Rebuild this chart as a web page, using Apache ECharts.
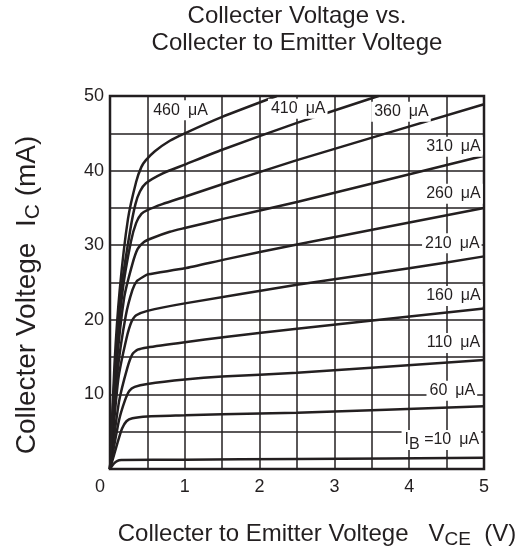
<!DOCTYPE html>
<html><head><meta charset="utf-8">
<script src="https://cdn.jsdelivr.net/npm/echarts@6/dist/echarts.min.js"></script>
<style>html,body{margin:0;padding:0;background:#fff}#c{width:523px;height:556px}</style>
</head><body><div id="c"></div>
<script>
// ---- data ----
const xTickLabels = ['0', '1', '2', '3', '4', '5'];
const yTickLabels = ['10', '20', '30', '40', '50'];
const ibNames = ['10', '60', '110', '160', '210', '260', '310', '360', '410', '460'];

const ib10  = [[0,0],[0.05,0.7],[0.1,1.1],[0.15,1.2],[1,1.25],[2.5,1.35],[5,1.5]];
const ib60  = [[0,0],[0.1,3.5],[0.16,5.4],[0.22,6.4],[0.3,6.8],[0.5,7.05],[1,7.2],[1.5,7.35],[2.5,7.55],[5,8.4]];
const ib110 = [[0,0],[0.12,6.5],[0.2,9.2],[0.26,10.5],[0.33,11.0],[0.5,11.4],[1,12.0],[1.5,12.4],[2.5,12.9],[5,14.6]];
const ib160 = [[0,0],[0.12,9],[0.23,13.5],[0.3,15.4],[0.37,16.0],[0.5,16.3],[1,17.0],[1.54,17.7],[2.5,18.8],[5,21.5]];
const ib210 = [[0,0],[0.11,12],[0.22,17.5],[0.29,19.8],[0.35,20.6],[0.5,21.2],[1,22.2],[2.5,24.7],[4,26.9],[5,28.5]];
const ib260 = [[0,0],[0.1,13],[0.21,20.5],[0.3,24],[0.36,25.2],[0.45,25.8],[0.51,26.1],[1,26.9],[1.54,28.1],[2.5,30.1],[5,35]];
const ib310 = [[0,0],[0.09,14],[0.19,23],[0.3,27.5],[0.37,29.5],[0.45,30.4],[0.55,30.9],[0.8,31.8],[1,32.3],[1.54,33.6],[2.5,35.8],[5,42]];
const ib360 = [[0,0],[0.08,14],[0.17,24],[0.28,30.5],[0.35,33],[0.42,34.2],[0.5,34.7],[0.7,35.5],[1,36.5],[1.54,38.3],[2.5,41.4],[5,48.9]];
const ib410 = [[0,0],[0.07,14],[0.15,24],[0.27,32],[0.34,35.5],[0.4,37.2],[0.48,38.3],[0.7,39.6],[1,40.8],[1.5,42.8],[2.5,46.4],[3.59,50]];
const ib460 = [[0,0],[0.06,14],[0.13,24],[0.24,33.5],[0.35,38.5],[0.42,40.5],[0.48,41.4],[0.6,42.6],[0.8,44.0],[1,45.0],[1.5,47.2],[2.23,50]];

// label anchor points (data coordinates) for each curve's annotation
const labelAt10  = [4.43, 3.9];
const labelAt60  = [4.57, 10.5];
const labelAt110 = [4.585, 16.9];
const labelAt160 = [4.585, 23.2];
const labelAt210 = [4.57, 30.25];
const labelAt260 = [4.585, 36.9];
const labelAt310 = [4.585, 43.2];
const labelAt360 = [3.89, 47.9];
const labelAt410 = [2.51, 48.3];
const labelAt460 = [0.936, 48.1];

// ---- chart ----
const INK = '#231f20';
const FONT = '"Liberation Sans", Arial, Helvetica, sans-serif';
const curves = [ib10, ib60, ib110, ib160, ib210, ib260, ib310, ib360, ib410, ib460];
const anchors = [labelAt10, labelAt60, labelAt110, labelAt160, labelAt210, labelAt260, labelAt310, labelAt360, labelAt410, labelAt460];

const lineSeries = curves.map((d, i) => ({
  type: 'line', name: ibNames[i] + ' μA', data: d, showSymbol: false, smooth: 0.2,
  lineStyle: { color: INK, width: 2.5 }, z: 3, silent: true
}));

const labelData = anchors.map((p, i) => ({
  value: p,
  label: {
    formatter: i === 0 ? '{t|I}{s|B}{t| =' + ibNames[i] + '\u2002μA}' : '{t|' + ibNames[i] + '\u2002μA}'
  }
}));

const xRich = {
  t: { fontFamily: FONT, fontSize: 24, color: INK, lineHeight: 30, verticalAlign: 'middle' },
  s: { fontFamily: FONT, fontSize: 19, color: INK, lineHeight: 20, verticalAlign: 'bottom' }
};
const yRich = {
  t: { fontFamily: FONT, fontSize: 28, color: INK, lineHeight: 34, verticalAlign: 'middle' },
  s: { fontFamily: FONT, fontSize: 21, color: INK, lineHeight: 22, verticalAlign: 'bottom' }
};

const chart = echarts.init(document.getElementById('c'), null, { renderer: 'canvas' });
chart.setOption({
  animation: false,
  backgroundColor: '#fff',
  title: {
    text: 'Collecter Voltage vs.\nCollecter to Emitter Voltege',
    left: 292, top: -2, textAlign: 'center',
    textStyle: { fontFamily: FONT, fontSize: 24, fontWeight: 'normal', color: INK, lineHeight: 27 }
  },
  grid: { left: 110, right: 39, top: 96, bottom: 87, show: true, borderColor: INK, borderWidth: 2.5, backgroundColor: 'transparent' },
  xAxis: {
    type: 'value', min: 0, max: 5, interval: 0.5,
    axisLine: { show: false }, axisTick: { show: false },
    splitLine: { show: true, lineStyle: { color: INK, width: 1.5 } },
    axisLabel: {
      margin: 9, color: INK, fontFamily: FONT, fontSize: 18,
      formatter: v => Number.isInteger(v) ? (v === 0 ? '{z|' + xTickLabels[v] + '}' : xTickLabels[v]) : '',
      rich: { z: { fontFamily: FONT, fontSize: 18, color: INK, padding: [0, 20, 0, 0] } }
    },
    name: '{t|Collecter to Emitter Voltege   V}{s|CE}{t|  (V)}',
    nameLocation: 'middle', nameGap: 50,
    nameTextStyle: { padding: [0, 0, 0, 40], rich: xRich }
  },
  yAxis: {
    type: 'value', min: 0, max: 50, interval: 5,
    axisLine: { show: false }, axisTick: { show: false },
    splitLine: { show: true, lineStyle: { color: INK, width: 1.5 } },
    axisLabel: {
      margin: 6, color: INK, fontFamily: FONT, fontSize: 18,
      formatter: v => (v > 0 && v % 10 === 0) ? yTickLabels[v / 10 - 1] : ''
    },
    name: '{t|Collecter Voltege  I}{s|C}{t| (mA)}',
    nameLocation: 'middle', nameGap: 66, nameRotate: 90,
    nameTextStyle: { padding: [0, 25, 0, 0], rich: yRich }
  },
  series: lineSeries.concat([{
    type: 'scatter', data: labelData, symbol: 'circle', symbolSize: 1,
    itemStyle: { color: 'rgba(0,0,0,0)', opacity: 1 }, z: 10, silent: true,
    label: {
      show: true, position: 'inside', backgroundColor: '#fff', padding: [1, 2, 1, 3],
      color: INK, opacity: 1, textBorderWidth: 0,
      rich: {
        t: { fontFamily: FONT, fontSize: 16, color: INK, lineHeight: 18, verticalAlign: 'middle', textBorderWidth: 0 },
        s: { fontFamily: FONT, fontSize: 16, color: INK, lineHeight: 18, verticalAlign: 'bottom', padding: [0, 0, -4, 0], textBorderWidth: 0 }
      }
    }
  }])
});
</script></body></html>
